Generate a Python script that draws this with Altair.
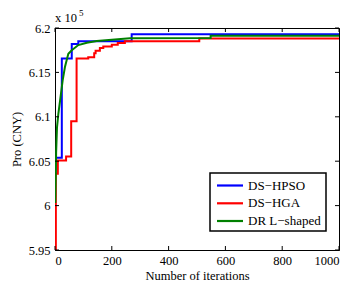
import altair as alt
import pandas as pd

# ---- data (Pro in units of 1e5 CNY) ----
iters_hpso = [0, 2, 24, 59, 82, 270, 1000]
pro_hpso = [6.037, 6.054, 6.1657, 6.182, 6.185, 6.193, 6.193]

iters_hga = [0, 3, 10, 39, 57, 76, 117, 138, 143, 158, 170, 200, 221, 246, 508, 1000]
pro_hga = [5.95, 6.036, 6.0507, 6.0552, 6.095, 6.1657, 6.167, 6.1717, 6.1743,
           6.1774, 6.1793, 6.1811, 6.183, 6.185, 6.1883, 6.1883]

iters_dr = [1, 4, 7, 12, 18, 27, 35, 41, 47, 59, 82, 112, 147, 200, 264, 548, 548, 1000]
pro_dr = [6.003, 6.06, 6.088, 6.104, 6.1186, 6.141, 6.156, 6.1638, 6.171, 6.175,
          6.1808, 6.1834, 6.1853, 6.1869, 6.1885, 6.1888, 6.1913, 6.1913]

names = ["DS\u2212HPSO", "DS\u2212HGA", "DR L\u2212shaped"]
colors = ["#0000FF", "#FF0000", "#008000"]

x_ticks = [0, 200, 400, 600, 800, 1000]
y_ticks = [5.95, 6.0, 6.05, 6.1, 6.15, 6.2]

FONT = "Liberation Serif"
W, H = 284, 222


def frame(xs, ys, name):
    return pd.DataFrame({"it": xs, "pro": ys, "method": name, "ord": list(range(len(xs)))})


df_h = frame(iters_hpso, pro_hpso, names[0])
df_g = frame(iters_hga, pro_hga, names[1])
df_d = frame(iters_dr, pro_dr, names[2])

xscale = alt.Scale(domain=[0, 1000], nice=False)
yscale = alt.Scale(domain=[5.95, 6.2], nice=False, zero=False)
cscale = alt.Scale(domain=names, range=colors)

xax = alt.Axis(values=x_ticks, ticks=False, grid=False, title="Number of iterations",
               format="d", labelPadding=4, titlePadding=3)
yax = alt.Axis(values=y_ticks, ticks=False, grid=False, title="Pro (CNY)", format="~g",
               labelPadding=5, titlePadding=5)


def line(df, interp):
    return alt.Chart(df).mark_line(interpolate=interp, strokeWidth=2, clip=True).encode(
        x=alt.X("it:Q", scale=xscale, axis=xax),
        y=alt.Y("pro:Q", scale=yscale, axis=yax),
        color=alt.Color("method:N", scale=cscale, legend=None),
        order="ord:Q",
    )


tx = pd.DataFrame({"v": x_ticks})
ty = pd.DataFrame({"v": y_ticks})
TL = 4
tick_style = dict(color="black", strokeWidth=1)
top_t = alt.Chart(tx).mark_rule(**tick_style).encode(
    x=alt.X("v:Q", scale=xscale), y=alt.value(0), y2=alt.value(TL))
bot_t = alt.Chart(tx).mark_rule(**tick_style).encode(
    x=alt.X("v:Q", scale=xscale), y=alt.value(H), y2=alt.value(H - TL))
left_t = alt.Chart(ty).mark_rule(**tick_style).encode(
    y=alt.Y("v:Q", scale=yscale), x=alt.value(0), x2=alt.value(TL))
right_t = alt.Chart(ty).mark_rule(**tick_style).encode(
    y=alt.Y("v:Q", scale=yscale), x=alt.value(W), x2=alt.value(W - TL))

exp_base = alt.Chart(pd.DataFrame({"t": ["x 10"]})).mark_text(
    font=FONT, fontSize=12.5, align="left", baseline="alphabetic", color="black").encode(
    text="t:N", x=alt.value(0), y=alt.value(-6))
exp_sup = alt.Chart(pd.DataFrame({"t": ["5"]})).mark_text(
    font=FONT, fontSize=9, align="left", baseline="alphabetic", color="black").encode(
    text="t:N", x=alt.value(24), y=alt.value(-12))

# ---- legend box (drawn by hand to match the compact MATLAB-style legend) ----
LX0, LX1, LY0, LY1 = 155, 271, 145, 203
row_y = [157.5, 175.3, 193]
leg_box = alt.Chart(pd.DataFrame({"a": [0]})).mark_rect(
    fill="white", stroke="black", strokeWidth=1.5).encode(
    x=alt.value(LX0), x2=alt.value(LX1), y=alt.value(LY0), y2=alt.value(LY1))
leg_layers = [leg_box]
for nm, col, ry in zip(names, colors, row_y):
    d = pd.DataFrame({"t": [nm]})
    leg_layers.append(alt.Chart(d).mark_rule(color=col, strokeWidth=2.2).encode(
        x=alt.value(LX0 + 7), x2=alt.value(LX0 + 33), y=alt.value(ry)))
    leg_layers.append(alt.Chart(d).mark_text(
        font=FONT, fontSize=13, align="left", baseline="middle", color="black").encode(
        text="t:N", x=alt.value(LX0 + 38), y=alt.value(ry)))

chart = alt.layer(
    line(df_h, "step-after"), line(df_g, "step-after"), line(df_d, "linear"),
    top_t, bot_t, left_t, right_t, exp_base, exp_sup, *leg_layers,
).properties(
    width=W, height=H, autosize="none",
    padding={"left": 47, "top": 20, "right": 13, "bottom": 36},
    background="white",
).configure_view(stroke="black", strokeWidth=1).configure_axis(
    domainColor="black", labelFont=FONT, titleFont=FONT, labelFontSize=12.5,
    titleFontSize=12.5, labelColor="black", titleColor="black", titleFontWeight="normal",
)

chart.save("out.html", embed_options={"renderer": "svg", "actions": False})
